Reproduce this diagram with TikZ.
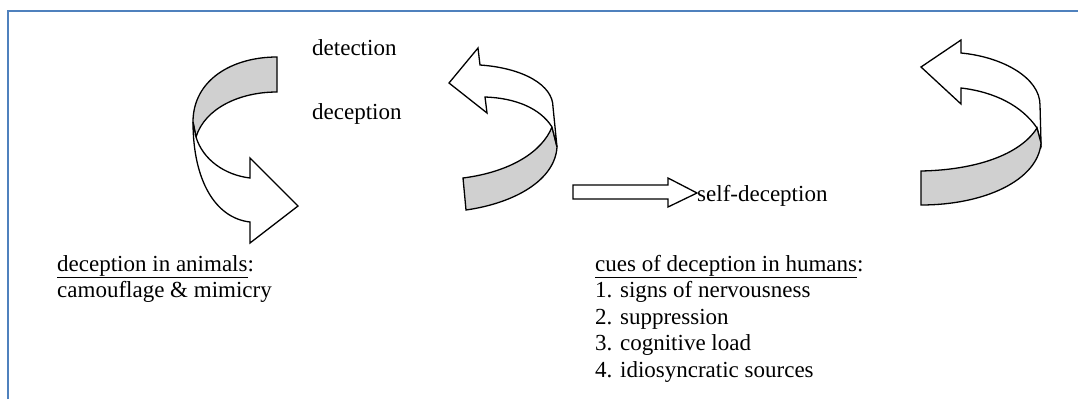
\documentclass[tikz,border=0pt]{standalone}
\usepackage{fontspec}
\setmainfont{Liberation Serif}
\definecolor{frameblue}{RGB}{79,129,189}
\definecolor{bandgray}{RGB}{208,208,208}
\tikzset{
  label/.style={anchor=base west, inner sep=0pt, font=\fontsize{23}{26.5}\selectfont},
  listtext/.style={label, align=left, anchor=north west},
  ribbon/.style={draw=black, line width=1.3pt, line join=miter},
  backface/.style={ribbon, fill=bandgray},
  frontface/.style={ribbon, fill=white},
}
\begin{document}
\begin{tikzpicture}[x=1pt, y=-1pt]
\useasboundingbox (0,0) rectangle (1078,399);
% frame
\draw[frameblue, line width=2.4pt] (8,399) -- (8,11) -- (1078,11);

% left circular arrow: back face, then front face with head
\path[backface] (277,57) -- (277,92)
  .. controls (240,92) and (205,108) .. (196,137)
  -- (193,122) .. controls (193,80) and (232,57) .. (277,57) -- cycle;
\path[frontface] (193,122) .. controls (193,180) and (215,218) .. (250,222)
  -- (250,243) -- (298,206) -- (250,158) -- (250,178)
  .. controls (225,175) and (203,160) .. (196,137) -- cycle;

% middle circular arrow
\path[backface] (463,178) .. controls (510,172) and (542,152) .. (552,127)
  -- (557,147) .. controls (555,180) and (515,203) .. (466,210) -- cycle;
\path[frontface] (480,65) .. controls (523,68) and (553,85) .. (553,107)
  -- (557,147) -- (552,127) .. controls (540,108) and (515,98) .. (485,97)
  -- (487,113) -- (449,83) -- (478,48) -- cycle;

% right circular arrow
\path[frontface] (961,53) .. controls (1003,57) and (1040,78) .. (1040,105)
  -- (1041,143) -- (1037,128) .. controls (1022,106) and (995,92) .. (961,88)
  -- (961,104) -- (921,67) -- (961,40) -- cycle;
\path[backface] (921,171) .. controls (975,170) and (1020,155) .. (1037,128)
  -- (1041,143) .. controls (1038,180) and (985,205) .. (921,205) -- cycle;

% straight block arrow
\path[frontface] (573,185) -- (668,185) -- (668,178) -- (697,193)
  -- (668,207) -- (668,199) -- (573,199) -- cycle;

% labels
\node[label] (det)  at (312,55)  {detection};
\node[label] (dec)  at (312,119) {deception};
\node[label] (self) at (697,201) {self-deception};
\node[listtext] (animals) at (57,255)
  {\underline{deception in animals}:\\ camouflage \& mimicry};
\node[listtext] (humans) at (595,255)
  {\underline{cues of deception in humans}:\\ 1. signs of nervousness\\ 2. suppression\\ 3. cognitive load\\ 4. idiosyncratic sources};
\end{tikzpicture}
\end{document}
